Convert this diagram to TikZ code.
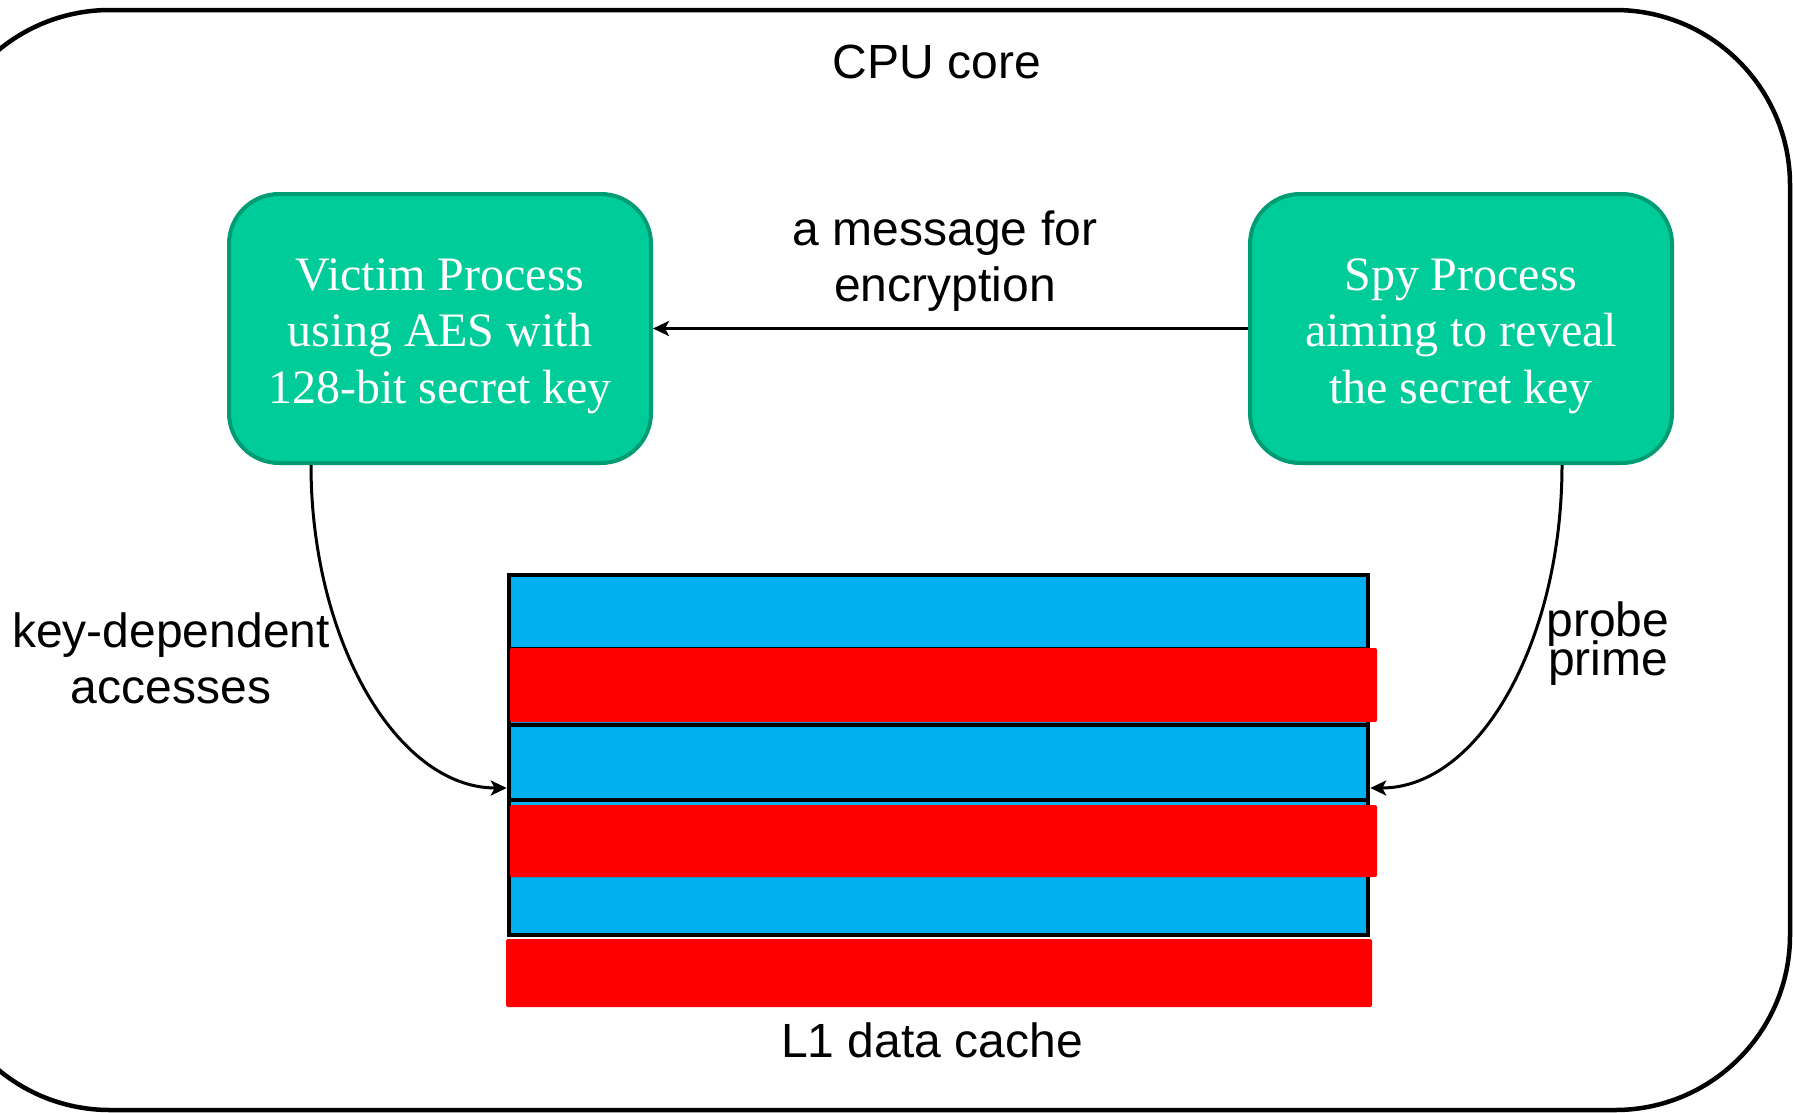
\documentclass[tikz,border=0pt]{standalone}
\usepackage{fontspec}
\setmainfont{Liberation Serif}
\setsansfont{Liberation Sans}
\usetikzlibrary{arrows.meta}
\definecolor{boxfill}{HTML}{00CC99}
\definecolor{boxline}{HTML}{009C73}
\definecolor{cacheblue}{HTML}{00B0F0}
\definecolor{cachered}{HTML}{FF0000}
\begin{document}
\begin{tikzpicture}[x=1pt,y=-1pt,
  corebox/.style={draw=black, line width=4.5pt, rounded corners=175pt, minimum width=1855pt, minimum height=1100pt, inner sep=0pt},
  procbox/.style={draw=boxline, fill=boxfill, line width=4pt, rounded corners=50pt, minimum width=422pt, minimum height=269pt, inner sep=0pt},
  proctext/.style={text=white, align=center, font=\rmfamily\fontsize{48pt}{56.5pt}\selectfont, inner sep=0pt},
  lbl/.style={align=center, font=\sffamily\fontsize{48pt}{56pt}\selectfont, inner sep=0pt},
  cacheframe/.style={draw=black, fill=cacheblue, line width=4.5pt, minimum width=859pt, minimum height=360pt, inner sep=0pt},
  redrow/.style={fill=cachered, draw=none, rounded corners=2pt},
  sep/.style={draw=black, line width=4.5pt},
  arr/.style={draw=black, line width=3pt, -{Stealth[length=16pt,width=15pt,inset=4pt]}}
]
\useasboundingbox (0,0) rectangle (1793,1112);
\clip (0,0) rectangle (1793,1112);
\fill[white] (0,0) rectangle (1793,1112);

% CPU core frame
\node[corebox] (core) at (862.5,560) {};
\node[lbl, anchor=base] (corelabel) at (937,78) {CPU core};

% processes (anchor=base is the baseline of the last line)
\node[procbox] (victim) at (440,328.5) {};
\node[proctext, anchor=base] (victimtext) at (440,403) {Victim Process\\using AES with\\128-bit secret key};
\node[procbox] (spy) at (1461,328.5) {};
\node[proctext, anchor=base] (spytext) at (1461,403) {Spy Process\\aiming to reveal\\the secret key};

% message arrow
\draw[arr] (spy) -- (victim);
\node[lbl, anchor=base] (msglabel) at (945,301) {a message for\\encryption};

% L1 data cache
\node[cacheframe] (cache) at (938.5,755) {};
\draw[line width=1.5pt] (509,647.5) -- (1368,647.5);
\draw[sep] (509,725) -- (1368,725);
\draw[sep] (509,800) -- (1368,800);
\fill[redrow] (510,648) rectangle (1377,722);
\fill[redrow] (510,805) rectangle (1377,877);
\fill[redrow] (506,939) rectangle (1372,1007);
\node[lbl, anchor=base] (cachelabel) at (932,1057) {L1 data cache};

% accesses
\draw[arr] ([xshift=-129pt]victim.south) .. controls +(0,175) and +(-110,0) .. ([yshift=-33pt]cache.west);
\node[lbl, anchor=base] (keylabel) at (171,703) {key-dependent\\accesses};
\draw[arr] ([xshift=101pt]spy.south) .. controls +(0,175) and +(110,0) .. ([yshift=-33pt]cache.east);
\node[lbl, anchor=base] (probelabel) at (1608,675) {probe\\[-17pt]prime};
\end{tikzpicture}
\end{document}
